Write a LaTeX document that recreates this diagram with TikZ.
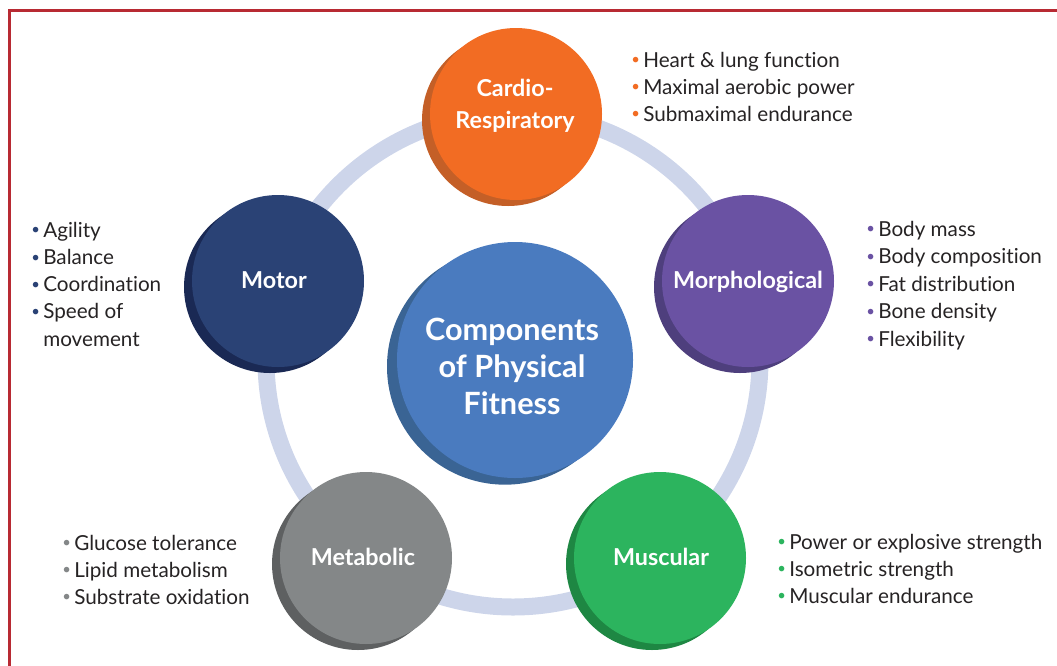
\documentclass[tikz,border=0pt]{standalone}
\usepackage{fontspec}
\setmainfont{Lato}[Ligatures=NoCommon]
\usetikzlibrary{shadows,calc}
\definecolor{frame}{HTML}{B82A33}
\definecolor{ringc}{HTML}{CDD5EA}
\definecolor{corange}{HTML}{F26C23}
\definecolor{sorange}{HTML}{C45F27}
\definecolor{cpurple}{HTML}{6A52A3}
\definecolor{spurple}{HTML}{4E3F7D}
\definecolor{cnavy}{HTML}{2A4275}
\definecolor{snavy}{HTML}{1A2954}
\definecolor{cgreen}{HTML}{2CB45E}
\definecolor{sgreen}{HTML}{1E8743}
\definecolor{cgray}{HTML}{848788}
\definecolor{sgray}{HTML}{5E6061}
\definecolor{cblue}{HTML}{4A7BBF}
\definecolor{sblue}{HTML}{3A6494}
\definecolor{txt}{HTML}{262324}
\newcommand\bul[1]{\makebox[9pt][l]{\textcolor{#1}{\raisebox{1.6pt}{\scalebox{0.72}{\textbullet}}}}}
\tikzset{
  comp/.style 2 args={circle, fill=#1, inner sep=0pt, minimum size=129pt,
    drop shadow={shadow xshift=-6pt, shadow yshift=-4.5pt, opacity=1, fill=#2}},
  hub/.style={circle, fill=cblue, inner sep=0pt, minimum size=177pt,
    drop shadow={shadow xshift=-7.5pt, shadow yshift=-5pt, opacity=1, fill=sblue}},
  lbl/.style={text=white, align=center, inner sep=0pt, font=\bfseries\fontsize{17.5}{24}\selectfont},
  hublbl/.style={text=white, align=center, inner sep=0pt, font=\bfseries\fontsize{23}{27.75}\selectfont},
  item/.style={anchor=base west, inner sep=0pt, text=txt, font=\fontsize{15.5}{18}\selectfont},
  ringline/.style={draw=ringc, line width=12.75pt},
  frameline/.style={draw=frame, line width=2.25pt}
}
\begin{document}
\begin{tikzpicture}[x=0.75pt,y=-0.75pt]
\useasboundingbox (0,0) rectangle (1057,665);
\draw[frameline] (9,666) -- (9,10.5) -- (1058,10.5);
\coordinate (rc) at (513,360);
\draw[ringline] (rc) circle[radius=185.25pt];
% component circles
\node[comp={corange}{sorange}] (cardio) at (516,114) {};
\node[comp={cpurple}{spurple}] (morph) at (748,281) {};
\node[comp={cnavy}{snavy}] (motor) at (278,281) {};
\node[comp={cgreen}{sgreen}] (musc) at (660,558) {};
\node[comp={cgray}{sgray}] (meta) at (366,558) {};
\node[hub] (hub) at (515,360) {};
% labels
\node[lbl] (cardiol) at ($(cardio)+(-1,-8)$) {Cardio-\\Respiratory};
\node[lbl] (morphl) at ($(morph)+(0,1)$) {Morphological};
\node[lbl] (motorl) at ($(motor)+(-4,-1)$) {Motor};
\node[lbl] (muscl) at ($(musc)+(1,-1)$) {Muscular};
\node[lbl] (metal) at ($(meta)+(-3,-1)$) {Metabolic};
\node[hublbl] (hubl) at ($(hub)+(-3,6)$) {Components\\of Physical\\Fitness};
% lists
\foreach \t [count=\i from 0] in {Heart \& lung function, Maximal aerobic power, Submaximal endurance}
  \node[item] (cr\i) at (631,{67+27*\i}) {\bul{corange}\t};
\foreach \t [count=\i from 0] in {Body mass, Body composition, Fat distribution, Bone density, Flexibility}
  \node[item] (mo\i) at (866,{236+27.5*\i}) {\bul{cpurple}\t};
\foreach \t [count=\i from 0] in {Agility, Balance, Coordination, Speed of}
  \node[item] (mt\i) at (31,{237+27.3*\i}) {\bul{cnavy}\t};
\node[item] (mt4) at (43,346) {movement};
\foreach \t [count=\i from 0] in {Power or explosive strength, Isometric strength, Muscular endurance}
  \node[item] (mu\i) at (777,{549+27*\i}) {\bul{cgreen}\t};
\foreach \t [count=\i from 0] in {Glucose tolerance, Lipid metabolism, Substrate oxidation}
  \node[item] (me\i) at (62,{550+27*\i}) {\bul{cgray}\t};
\end{tikzpicture}
\end{document}
